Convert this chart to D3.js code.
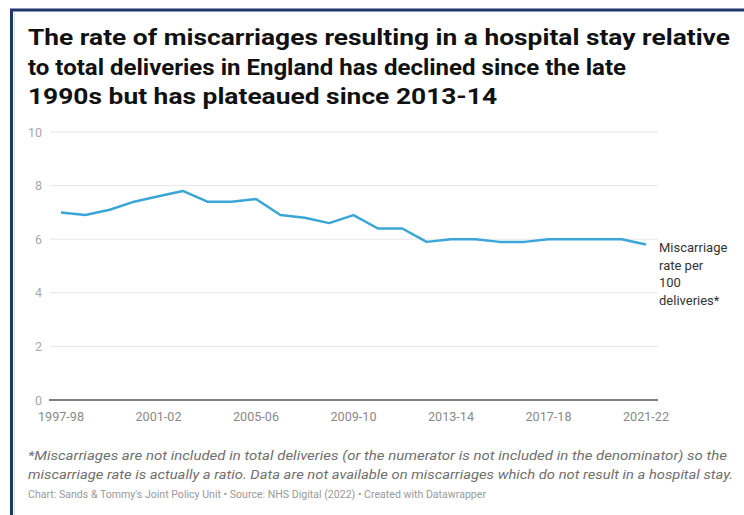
<!DOCTYPE html>
<html><head><meta charset="utf-8">
<script src="https://cdn.jsdelivr.net/npm/d3@7"></script>
<style>
html,body{margin:0;padding:0;background:#fff;}
svg text{font-family:Roboto,"Noto Sans",sans-serif;}
</style></head>
<body><svg id="c" width="744" height="515"></svg>
<script>
const years = ["1997-98","1998-99","1999-00","2000-01","2001-02","2002-03","2003-04","2004-05","2005-06","2006-07","2007-08","2008-09","2009-10","2010-11","2011-12","2012-13","2013-14","2014-15","2015-16","2016-17","2017-18","2018-19","2019-20","2020-21","2021-22"];
const rates = [7.0,6.9,7.1,7.4,7.6,7.8,7.4,7.4,7.5,6.9,6.8,6.6,6.9,6.4,6.4,5.9,6.0,6.0,5.9,5.9,6.0,6.0,6.0,6.0,5.8];
const xTickLabels = ["1997-98","2001-02","2005-06","2009-10","2013-14","2017-18","2021-22"];
const yTicks = [0,2,4,6,8,10];
const titleLines = ["The rate of miscarriages resulting in a hospital stay relative","to total deliveries in England has declined since the late","1990s but has plateaued since 2013-14"];
const noteLines = ["*Miscarriages are not included in total deliveries (or the numerator is not included in the denominator) so the","miscarriage rate is actually a ratio. Data are not available on miscarriages which do not result in a hospital stay."];
const credit = "Chart: Sands & Tommy's Joint Policy Unit \u2022 Source: NHS Digital (2022) \u2022 Created with Datawrapper";
const seriesLabel = ["Miscarriage","rate per","100","deliveries*"];

const svg = d3.select("#c");
// border
svg.append("rect").attr("x",11.5).attr("y",10).attr("width",760).attr("height",540)
  .attr("fill","none").attr("stroke","#1d3766").attr("stroke-width",3);
svg.append("line").attr("x1",14.5).attr("x2",14.5).attr("y1",12).attr("y2",515).attr("stroke","#d8dde6").attr("stroke-width",1);

const x = d3.scalePoint().domain(years).range([61,646]);
const y = d3.scaleLinear().domain([0,10]).range([400,132]);

// title
const tw = [702, 598, 469];
titleLines.forEach((t,i)=>{
  svg.append("text").attr("x",28).attr("y",45+i*29.5).text(t)
    .attr("font-size",22.5).attr("font-weight",700).attr("fill","#111")
    .attr("textLength",tw[i]).attr("lengthAdjust","spacingAndGlyphs");
});

// grid
const g = svg.append("g");
g.selectAll(".grid").data(yTicks.filter(d=>d>0)).join("line")
  .attr("x1",50).attr("x2",658).attr("y1",d=>y(d)).attr("y2",d=>y(d))
  .attr("stroke","#e6e6e6").attr("stroke-width",1);
g.append("line").attr("x1",49).attr("x2",658).attr("y1",y(0)).attr("y2",y(0))
  .attr("stroke","#555").attr("stroke-width",1.5);
g.selectAll(".yl").data(yTicks).join("text")
  .attr("x",42).attr("y",d=>y(d)+4.5).attr("text-anchor","end")
  .attr("font-size",12.5).attr("fill","#a8a8a8").text(d=>d);

// x axis labels
g.selectAll(".xl").data(xTickLabels).join("text")
  .attr("x",d=>x(d)).attr("y",421).attr("text-anchor","middle")
  .attr("font-size",13).attr("fill","#8a8a8a").text(d=>d)
  .attr("textLength",46).attr("lengthAdjust","spacingAndGlyphs");

// line
const line = d3.line().x((d,i)=>x(years[i])).y(d=>y(d));
svg.append("path").datum(rates).attr("d",line).attr("fill","none")
  .attr("stroke","#3aa6d8").attr("stroke-width",2.5).attr("stroke-linejoin","round");

// series label
seriesLabel.forEach((t,i)=>{
  svg.append("text").attr("x",659).attr("y",252+i*17.5).text(t)
    .attr("font-size",13).attr("fill","#333");
});

// notes
const nw = [699, 705];
noteLines.forEach((t,i)=>{
  svg.append("text").attr("x",28).attr("y",460+i*19).text(t)
    .attr("font-size",13.5).attr("font-style","italic").attr("fill","#6f6f6f")
    .attr("textLength",nw[i]).attr("lengthAdjust","spacingAndGlyphs");
});
svg.append("text").attr("x",28).attr("y",498).text(credit)
  .attr("font-size",11.5).attr("fill","#9a9a9a")
  .attr("textLength",458).attr("lengthAdjust","spacingAndGlyphs");
</script></body></html>
